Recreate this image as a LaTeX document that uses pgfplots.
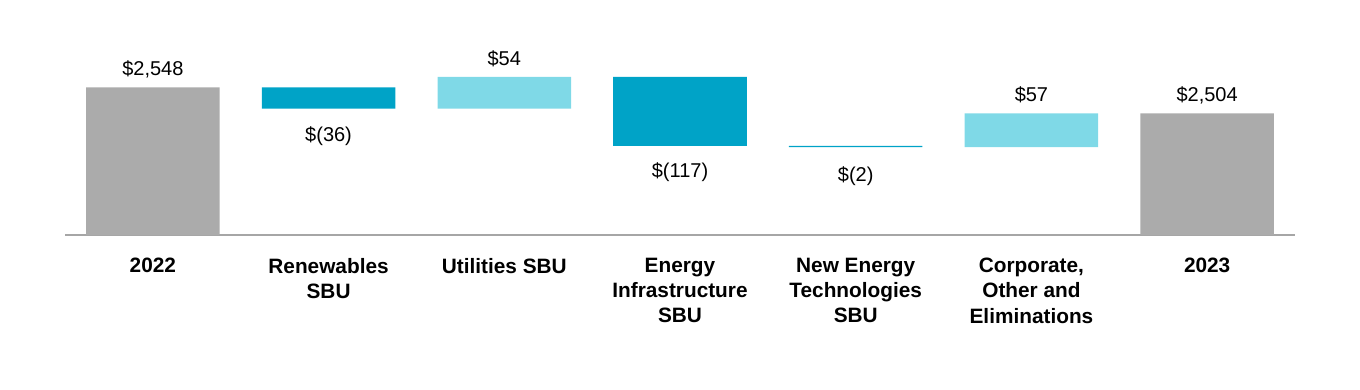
\documentclass[border=0pt]{standalone}
\usepackage{fontspec}
\setmainfont{Liberation Sans}
\usepackage{pgfplots}
\pgfplotsset{compat=1.18}
\definecolor{gbar}{HTML}{ABABAB}
\definecolor{dteal}{HTML}{00A3C7}
\definecolor{lteal}{HTML}{7FD9E7}
\definecolor{axgray}{HTML}{A6A6A6}
\begin{document}
\begin{tikzpicture}
\path (-32.5pt,-77.5pt) rectangle (647.5pt,117.5pt);
\begin{axis}[
  scale only axis, width=615pt, height=103.25pt,
  xmin=-0.5, xmax=6.5, ymin=2298, ymax=2648,
  ybar stacked, bar width=0.76,
  hide y axis,
  axis x line=bottom,
  x axis line style={-, axgray, line width=1pt},
  xtick={0,1,2,3,4,5,6},
  xticklabels={2022, {Renewables\\SBU}, {Utilities SBU}, {Energy\\Infrastructure\\SBU}, {New Energy\\Technologies\\SBU}, {Corporate,\\Other and\\Eliminations}, 2023},
  xticklabel style={font=\fontsize{10.4}{12.6}\selectfont\bfseries, align=center, anchor=north, inner sep=0pt, yshift=-11.4pt},
  major tick length=0pt,
  clip mode=individual,
  every node/.append style={font=\fontsize{10.7}{12.6}\selectfont},
]
% invisible base
\addplot[fill=none, draw=none] coordinates {(0,0) (1,2512) (2,2512) (3,2449) (4,2447) (5,2447) (6,0)};
% totals
\addplot[fill=gbar, draw=none] coordinates {(0,2548) (1,0) (2,0) (3,0) (4,0) (5,0) (6,2504)};
% decreases
\addplot[fill=dteal, draw=none] coordinates {(0,0) (1,36) (2,0) (3,117) (4,2) (5,0) (6,0)};
% increases
\addplot[fill=lteal, draw=none] coordinates {(0,0) (1,0) (2,54) (3,0) (4,0) (5,57) (6,0)};

\node[anchor=base, yshift=5.9pt] at (axis cs:0,2548) {\$2,548};
\node[anchor=base, yshift=-16.5pt] at (axis cs:1,2512) {\$(36)};
\node[anchor=base, yshift=5.9pt] at (axis cs:2,2566) {\$54};
\node[anchor=base, yshift=-16pt] at (axis cs:3,2449) {\$(117)};
\node[anchor=base, yshift=-17pt] at (axis cs:4,2447) {\$(2)};
\node[anchor=base, yshift=6.1pt] at (axis cs:5,2504) {\$57};
\node[anchor=base, yshift=6.1pt] at (axis cs:6,2504) {\$2,504};
\end{axis}
\end{tikzpicture}
\end{document}
